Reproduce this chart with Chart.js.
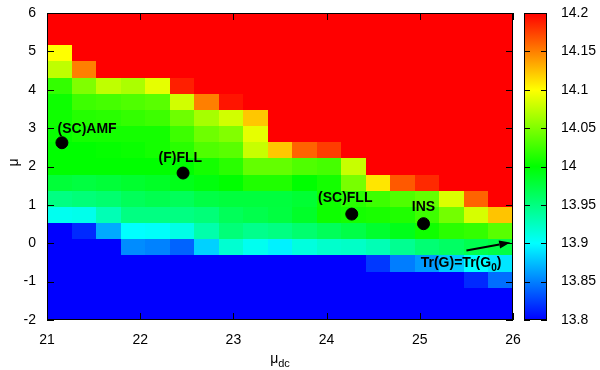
<!DOCTYPE html>
<html>
<head>
<meta charset="utf-8">
<script src="https://cdn.jsdelivr.net/npm/chart.js@4"></script>
<style>
  html, body { margin: 0; padding: 0; background: #fff; }
</style>
</head>
<body>
<canvas id="c" width="600" height="370"></canvas>
<script>
// ====================== Data ======================
const MU_DC_RANGE = [21, 26];
const MU_RANGE = [-2, 6];
const CB_RANGE = [13.8, 14.2];
const X_TICKS = [21, 22, 23, 24, 25, 26];
const Y_TICKS = [-2, -1, 0, 1, 2, 3, 4, 5, 6];
const CB_TICKS = [13.8, 13.85, 13.9, 13.95, 14, 14.05, 14.1, 14.15, 14.2];

// Tr(G): one row per mu step, top row (mu = 6) first; 19 columns from mu_dc = 21 to 26
const trG = [
  [14.2, 14.2, 14.2, 14.2, 14.2, 14.2, 14.2, 14.2, 14.2, 14.2, 14.2, 14.2, 14.2, 14.2, 14.2, 14.2, 14.2, 14.2, 14.2],
  [14.2, 14.2, 14.2, 14.2, 14.2, 14.2, 14.2, 14.2, 14.2, 14.2, 14.2, 14.2, 14.2, 14.2, 14.2, 14.2, 14.2, 14.2, 14.2],
  [14.1, 14.2, 14.2, 14.2, 14.2, 14.2, 14.2, 14.2, 14.2, 14.2, 14.2, 14.2, 14.2, 14.2, 14.2, 14.2, 14.2, 14.2, 14.2],
  [14.075, 14.15, 14.2, 14.2, 14.2, 14.2, 14.2, 14.2, 14.2, 14.2, 14.2, 14.2, 14.2, 14.2, 14.2, 14.2, 14.2, 14.2, 14.2],
  [14.02, 14.05, 14.075, 14.067, 14.09, 14.188, 14.2, 14.2, 14.2, 14.2, 14.2, 14.2, 14.2, 14.2, 14.2, 14.2, 14.2, 14.2, 14.2],
  [14.005, 14.024, 14.027, 14.031, 14.035, 14.082, 14.15, 14.192, 14.2, 14.2, 14.2, 14.2, 14.2, 14.2, 14.2, 14.2, 14.2, 14.2, 14.2],
  [14.006, 14.014, 14.016, 14.02, 14.024, 14.043, 14.065, 14.082, 14.122, 14.2, 14.2, 14.2, 14.2, 14.2, 14.2, 14.2, 14.2, 14.2, 14.2],
  [14.003, 14.008, 14.008, 14.008, 14.008, 14.024, 14.043, 14.051, 14.09, 14.2, 14.2, 14.2, 14.2, 14.2, 14.2, 14.2, 14.2, 14.2, 14.2],
  [14.0, 14.0, 14.002, 14.004, 14.008, 14.016, 14.031, 14.035, 14.078, 14.122, 14.161, 14.176, 14.2, 14.2, 14.2, 14.2, 14.2, 14.2, 14.2],
  [14.0, 14.0, 14.0, 14.0, 14.0, 14.0, 14.008, 14.016, 14.039, 14.039, 14.031, 14.027, 14.078, 14.2, 14.2, 14.2, 14.2, 14.2, 14.2],
  [13.978, 13.975, 13.978, 13.982, 13.985, 13.99, 13.995, 14.0, 14.012, 14.012, 14.0, 14.008, 14.047, 14.11, 14.165, 14.184, 14.2, 14.2, 14.2],
  [13.949, 13.953, 13.957, 13.965, 13.969, 13.965, 13.973, 13.976, 13.976, 13.976, 13.98, 14.006, 14.016, 14.024, 14.031, 14.039, 14.086, 14.161, 14.2],
  [13.906, 13.908, 13.929, 13.949, 13.949, 13.949, 13.953, 13.965, 13.97, 13.975, 13.984, 14.005, 14.008, 14.01, 14.012, 14.024, 14.045, 14.084, 14.123],
  [13.8, 13.816, 13.867, 13.9, 13.902, 13.91, 13.933, 13.953, 13.945, 13.949, 13.957, 13.965, 13.972, 13.982, 13.99, 14.006, 14.016, 14.02, 14.035],
  [13.8, 13.8, 13.8, 13.855, 13.851, 13.839, 13.882, 13.918, 13.906, 13.895, 13.913, 13.92, 13.922, 13.929, 13.943, 13.955, 13.961, 13.969, 13.973],
  [13.8, 13.8, 13.8, 13.8, 13.8, 13.8, 13.8, 13.8, 13.8, 13.8, 13.8, 13.8, 13.8, 13.822, 13.849, 13.86, 13.878, 13.9, 13.89],
  [13.8, 13.8, 13.8, 13.8, 13.8, 13.8, 13.8, 13.8, 13.8, 13.8, 13.8, 13.8, 13.8, 13.8, 13.8, 13.8, 13.8, 13.816, 13.843],
  [13.8, 13.8, 13.8, 13.8, 13.8, 13.8, 13.8, 13.8, 13.8, 13.8, 13.8, 13.8, 13.8, 13.8, 13.8, 13.8, 13.8, 13.8, 13.8],
  [13.8, 13.8, 13.8, 13.8, 13.8, 13.8, 13.8, 13.8, 13.8, 13.8, 13.8, 13.8, 13.8, 13.8, 13.8, 13.8, 13.8, 13.8, 13.8]
];

// marked methods
const pointNames = ["(SC)AMF", "(F)FLL", "(SC)FLL", "INS"];
const pointMuDc = [21.16, 22.46, 24.27, 25.04];
const pointMu = [2.62, 1.83, 0.76, 0.51];
const labelMuDc = [21.43, 22.43, 24.20, 25.04];
const labelMu = [2.88, 2.12, 1.07, 0.83];

// Tr(G)=Tr(G0) arrow
const arrowFrom = [25.50, -0.19];
const arrowTo = [25.97, 0.02];
const arrowLabelAt = [25.01, -0.61];

const FONT = "'Liberation Sans', Arial, sans-serif";

// ====================== Colour map ======================
function colorFor(v) {
  const t = Math.min(1, Math.max(0, (v - CB_RANGE[0]) / (CB_RANGE[1] - CB_RANGE[0]))) * 4;
  let r, g, b;
  if (t < 1) { r = 0; g = 255 * t; b = 255; }
  else if (t < 2) { r = 0; g = 255; b = 255 * (2 - t); }
  else if (t < 3) { r = 255 * (t - 2); g = 255; b = 0; }
  else { r = 255; g = 255 * (4 - t); b = 0; }
  return `rgb(${Math.round(r)},${Math.round(g)},${Math.round(b)})`;
}

// ====================== Plugins ======================
const heatmap = {
  id: "heatmap",
  beforeDatasetsDraw(chart) {
    const { ctx, scales: { x, y } } = chart;
    const nCols = trG[0].length;
    const dx = (MU_DC_RANGE[1] - MU_DC_RANGE[0]) / nCols;
    const dy = (MU_RANGE[1] - MU_RANGE[0]) / trG.length;
    ctx.save();
    trG.forEach((row, r) => {
      const top = MU_RANGE[1] - r * dy;
      const y0 = Math.round(y.getPixelForValue(top));
      const y1 = Math.round(y.getPixelForValue(top - dy));
      row.forEach((v, c) => {
        const left = MU_DC_RANGE[0] + c * dx;
        const x0 = Math.round(x.getPixelForValue(left));
        const x1 = Math.round(x.getPixelForValue(left + dx));
        ctx.fillStyle = colorFor(v);
        ctx.fillRect(x0, y0, x1 - x0, y1 - y0);
      });
    });
    ctx.restore();
  }
};

const decorations = {
  id: "decorations",
  afterDraw(chart) {
    const { ctx, chartArea: a, scales: { x, y, cb } } = chart;
    ctx.save();

    // frame + inward ticks
    ctx.strokeStyle = "#000";
    ctx.lineWidth = 1;
    ctx.strokeRect(a.left + 0.5, a.top + 0.5, a.right - a.left - 1, a.bottom - a.top - 1);
    ctx.beginPath();
    X_TICKS.forEach(v => {
      const px = Math.round(x.getPixelForValue(v)) + 0.5;
      ctx.moveTo(px, a.bottom); ctx.lineTo(px, a.bottom - 7);
      ctx.moveTo(px, a.top); ctx.lineTo(px, a.top + 7);
    });
    Y_TICKS.forEach(v => {
      const py = Math.round(y.getPixelForValue(v)) + 0.5;
      ctx.moveTo(a.left, py); ctx.lineTo(a.left + 7, py);
      ctx.moveTo(a.right, py); ctx.lineTo(a.right - 7, py);
    });
    ctx.stroke();

    // colour bar
    const cbL = a.right + 11, cbR = a.right + 34;
    const cbT = cb.getPixelForValue(CB_RANGE[1]), cbB = cb.getPixelForValue(CB_RANGE[0]);
    const grad = ctx.createLinearGradient(0, cbB, 0, cbT);
    [0, 0.25, 0.5, 0.75, 1].forEach(s => grad.addColorStop(s, colorFor(CB_RANGE[0] + s * (CB_RANGE[1] - CB_RANGE[0]))));
    ctx.fillStyle = grad;
    ctx.fillRect(cbL, cbT, cbR - cbL, cbB - cbT);
    ctx.strokeRect(cbL + 0.5, cbT + 0.5, cbR - cbL - 1, cbB - cbT - 1);
    ctx.beginPath();
    CB_TICKS.forEach(v => {
      const py = Math.round(cb.getPixelForValue(v)) + 0.5;
      ctx.moveTo(cbL, py); ctx.lineTo(cbL + 6, py);
      ctx.moveTo(cbR, py); ctx.lineTo(cbR - 6, py);
    });
    ctx.stroke();

    // axis titles
    ctx.fillStyle = "#000";
    ctx.textBaseline = "alphabetic";
    ctx.font = `14px ${FONT}`;
    const muW = ctx.measureText("μ").width;
    ctx.font = `11px ${FONT}`;
    const dcW = ctx.measureText("dc").width;
    const cx = (a.left + a.right) / 2 - (muW + dcW) / 2;
    ctx.font = `14px ${FONT}`;
    ctx.textAlign = "left";
    ctx.fillText("μ", cx, 363);
    ctx.font = `11px ${FONT}`;
    ctx.fillText("dc", cx + muW, 367);

    ctx.save();
    ctx.translate(18, (a.top + a.bottom) / 2 - 4);
    ctx.rotate(-Math.PI / 2);
    ctx.font = `14px ${FONT}`;
    ctx.textAlign = "center";
    ctx.fillText("μ", 0, 0);
    ctx.restore();

    // point labels
    ctx.font = `bold 14px ${FONT}`;
    ctx.textAlign = "center";
    pointNames.forEach((name, i) => {
      ctx.fillText(name, x.getPixelForValue(labelMuDc[i]), y.getPixelForValue(labelMu[i]));
    });

    // arrow
    const x0 = x.getPixelForValue(arrowFrom[0]), y0 = y.getPixelForValue(arrowFrom[1]);
    const x1 = x.getPixelForValue(arrowTo[0]), y1 = y.getPixelForValue(arrowTo[1]);
    const ang = Math.atan2(y1 - y0, x1 - x0);
    const hl = 11, hw = 4;
    const bx = x1 - hl * Math.cos(ang), by = y1 - hl * Math.sin(ang);
    ctx.lineWidth = 2;
    ctx.beginPath();
    ctx.moveTo(x0, y0); ctx.lineTo(bx, by);
    ctx.stroke();
    ctx.beginPath();
    ctx.moveTo(x1, y1);
    ctx.lineTo(bx + hw * Math.sin(ang), by - hw * Math.cos(ang));
    ctx.lineTo(bx - hw * Math.sin(ang), by + hw * Math.cos(ang));
    ctx.closePath();
    ctx.fill();

    // Tr(G)=Tr(G0) label with subscript
    const lx = x.getPixelForValue(arrowLabelAt[0]), ly = y.getPixelForValue(arrowLabelAt[1]);
    ctx.textAlign = "left";
    ctx.font = `bold 14px ${FONT}`;
    const part1 = "Tr(G)=Tr(G";
    ctx.fillText(part1, lx, ly);
    let w = ctx.measureText(part1).width;
    ctx.font = `bold 10px ${FONT}`;
    ctx.fillText("0", lx + w, ly + 4);
    w += ctx.measureText("0").width;
    ctx.font = `bold 14px ${FONT}`;
    ctx.fillText(")", lx + w, ly);

    ctx.restore();
  }
};

// ====================== Chart ======================
const tickFont = { family: FONT, size: 14 };
const fmt = v => String(+Number(v).toFixed(2));
const noVPad = s => { s.paddingTop = 0; s.paddingBottom = 0; };

new Chart(document.getElementById("c"), {
  type: "scatter",
  data: {
    datasets: [{
      data: pointMuDc.map((v, i) => ({ x: v, y: pointMu[i] })),
      backgroundColor: "#000",
      borderColor: "#000",
      pointRadius: 6,
      pointHoverRadius: 6
    }]
  },
  options: {
    responsive: false,
    animation: false,
    layout: { padding: { top: 13 } },
    plugins: { legend: { display: false }, tooltip: { enabled: false } },
    scales: {
      x: {
        type: "linear", min: MU_DC_RANGE[0], max: MU_DC_RANGE[1],
        afterBuildTicks: s => { s.ticks = X_TICKS.map(v => ({ value: v })); },
        grid: { display: false, drawTicks: false },
        border: { display: false },
        ticks: { font: tickFont, color: "#000", padding: 12, maxRotation: 0, callback: fmt },
        afterFit: s => { s.height = 50; }
      },
      y: {
        type: "linear", min: MU_RANGE[0], max: MU_RANGE[1],
        afterBuildTicks: s => { s.ticks = Y_TICKS.map(v => ({ value: v })); },
        grid: { display: false, drawTicks: false },
        border: { display: false },
        ticks: { font: tickFont, color: "#000", padding: 11, callback: fmt },
        afterFit: s => { s.width = 47; noVPad(s); }
      },
      cb: {
        type: "linear", position: "right", min: CB_RANGE[0], max: CB_RANGE[1],
        afterBuildTicks: s => { s.ticks = CB_TICKS.map(v => ({ value: v })); },
        grid: { display: false, drawTicks: false },
        border: { display: false },
        ticks: { font: tickFont, color: "#000", padding: 48, callback: fmt },
        afterFit: s => { s.width = 87; noVPad(s); }
      }
    }
  },
  plugins: [heatmap, decorations]
});
</script>
</body>
</html>
